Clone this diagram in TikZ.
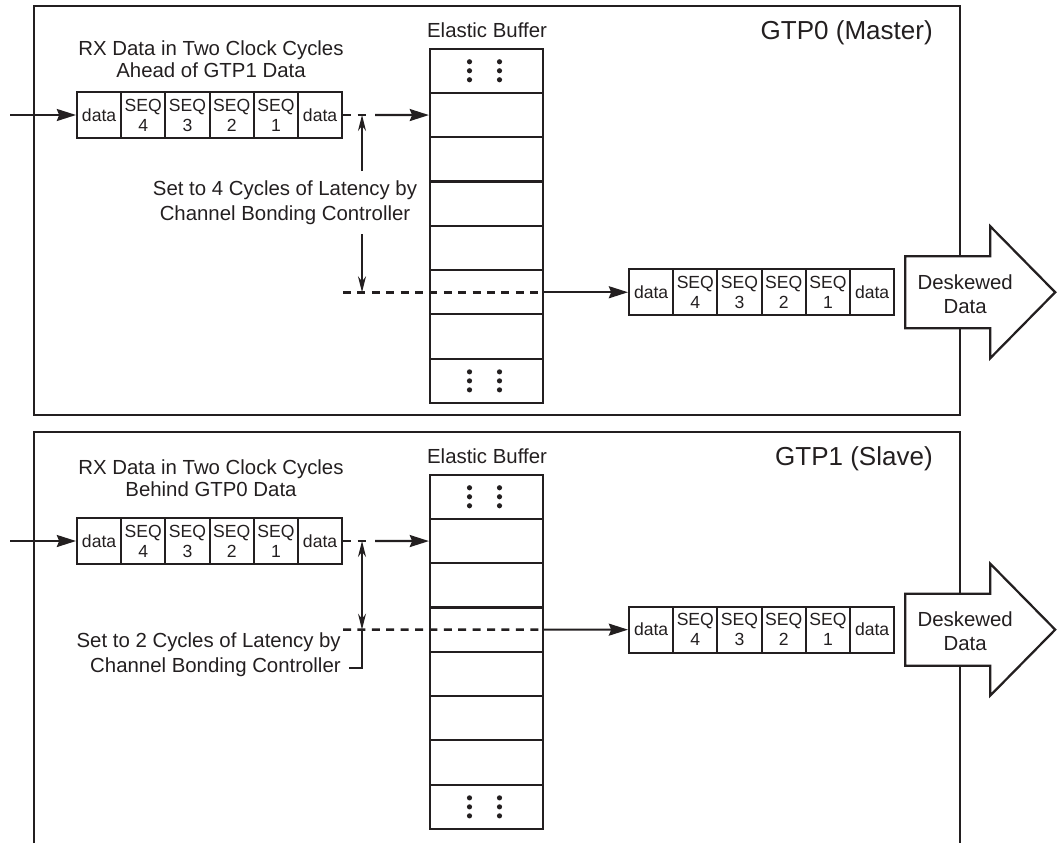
\documentclass[tikz,border=0pt]{standalone}
\usepackage{fontspec}
\setmainfont{Liberation Sans}
\usepackage{xcolor}
\definecolor{ink}{HTML}{231F20}
\usepackage{tikz}
\usetikzlibrary{arrows.meta,calc}
\newcommand{\lblfont}{\fontsize{14.5}{15.6}\selectfont}
\newcommand{\latfont}{\fontsize{14.5}{18}\selectfont}
\newcommand{\cellfont}{\fontsize{12.5}{14.2}\selectfont}
\newcommand{\gtpfont}{\fontsize{18.5}{22}\selectfont}

\begin{document}
\begin{tikzpicture}[x=0.025cm, y=-0.025cm, ink,
  >={Stealth[length=4.8mm,width=3mm,inset=0.6mm]},
  panel/.style={draw=ink, line width=1.8pt},
  bufrow/.style={draw=ink, fill=white, line width=1.5pt, minimum width=2.825cm, minimum height=1.1075cm, inner sep=0pt},
  cell/.style={draw=ink, fill=white, line width=1.4pt, minimum width=1.105cm, minimum height=1.15cm, inner sep=0pt, align=center, font=\cellfont},
  flow/.style={->, line width=1.5pt},
  stub/.style={line width=1.8pt, dash pattern=on 2mm off 1.6mm},
  lat/.style={line width=0.9pt, {Stealth[length=4mm,width=2mm]}-{Stealth[length=4mm,width=2mm]}},
  lbl/.style={font=\lblfont, align=center, inner sep=0pt},
  latlbl/.style={font=\latfont, inner sep=0pt},
  gtp/.style={font=\gtpfont, inner sep=0pt},
  bigarr/.style={draw=ink, fill=white, line width=1.6pt, line join=miter}]
  \useasboundingbox (0,0) rectangle (1057,843);
  % ------- GTP0 (master): 4 cycles -------
  \draw[panel] (34,6) rectangle (960,415);
  \node[lbl] (headA) at (211,59) {RX Data in Two Clock Cycles\\Ahead of GTP1 Data};
  \node[lbl] (bufA) at (487,30) {Elastic Buffer};
  \node[gtp, anchor=east] (gtpA) at (933,33) {GTP0 (Master)};
  \foreach \i in {1,...,8}
    \node[bufrow] (ebA\i) at (486.5,{48.6+(\i-0.5)*44.3}) {};
  \foreach \i in {1,8}
    \foreach \dx in {-17,13}
      \foreach \dy in {-9,0,9}
        \fill ($(ebA\i.center)+(\dx,\dy)$) circle (0.65mm);
  \foreach \j/\lab in {0/data,1/{SEQ\\4},2/{SEQ\\3},3/{SEQ\\2},4/{SEQ\\1},5/data}
    \node[cell] (rxA\j) at ({99.1+\j*44.2},115) {\lab};
  \foreach \j/\lab in {0/data,1/{SEQ\\4},2/{SEQ\\3},3/{SEQ\\2},4/{SEQ\\1},5/data}
    \node[cell] (dsA\j) at ({651.1+\j*44.2},292.25) {\lab};
  \coordinate (srcA) at (10,115);
  \coordinate (stubA) at (368,115);
  \coordinate (gapA) at (375,115);
  \coordinate (dashA) at (343,292.25);
  \draw[flow] (srcA) -- (rxA0.west);
  \draw[stub] (rxA5.east) -- (stubA);
  \draw[flow] (gapA) -- (ebA2.west);
  \draw[stub] (dashA) -- (ebA6.east);
  \draw[flow] (ebA6.east) -- (dsA0.west);
  \node[latlbl, align=center] (latA) at (285,202.5) {Set to 4 Cycles of Latency by\\Channel Bonding Controller};
  \coordinate (latAtop) at (362,115);
  \coordinate (latAup) at (362,171);
  \coordinate (latAdn) at (362,234);
  \coordinate (latAbot) at (362,292.25);
  \draw[lat, -{Stealth[length=4mm,width=2mm]}] (latAup) -- (latAtop);
  \draw[lat, -{Stealth[length=4mm,width=2mm]}] (latAdn) -- (latAbot);
  \draw[bigarr] ($(dsA5.east)+(10,-36)$) -- ++(85,0) -- ++(0,-30) -- ++(65,66)
    -- ++(-65,66) -- ++(0,-30) -- ++(-85,0) -- cycle;
  \node[latlbl, align=center, font=\fontsize{14.5}{17}\selectfont] (deskA) at ($(dsA5.east)+(70,2)$) {Deskewed\\Data};
  % ------- GTP1 (slave): 2 cycles -------
  \draw[panel] (34,843) -- (34,432) -- (960,432) -- (960,843);
  \node[lbl] (headB) at (211,478) {RX Data in Two Clock Cycles\\Behind GTP0 Data};
  \node[lbl] (bufB) at (487,456) {Elastic Buffer};
  \node[gtp, anchor=east] (gtpB) at (933,459) {GTP1 (Slave)};
  \foreach \i in {1,...,8}
    \node[bufrow] (ebB\i) at (486.5,{474.6+(\i-0.5)*44.3}) {};
  \foreach \i in {1,8}
    \foreach \dx in {-17,13}
      \foreach \dy in {-9,0,9}
        \fill ($(ebB\i.center)+(\dx,\dy)$) circle (0.65mm);
  \foreach \j/\lab in {0/data,1/{SEQ\\4},2/{SEQ\\3},3/{SEQ\\2},4/{SEQ\\1},5/data}
    \node[cell] (rxB\j) at ({99.1+\j*44.2},541) {\lab};
  \foreach \j/\lab in {0/data,1/{SEQ\\4},2/{SEQ\\3},3/{SEQ\\2},4/{SEQ\\1},5/data}
    \node[cell] (dsB\j) at ({651.1+\j*44.2},629.65) {\lab};
  \coordinate (srcB) at (10,541);
  \coordinate (stubB) at (368,541);
  \coordinate (gapB) at (375,541);
  \coordinate (dashB) at (343,629.65);
  \draw[flow] (srcB) -- (rxB0.west);
  \draw[stub] (rxB5.east) -- (stubB);
  \draw[flow] (gapB) -- (ebB2.west);
  \draw[stub] (dashB) -- (ebB4.east);
  \draw[flow] (ebB4.east) -- (dsB0.west);
  \node[latlbl, align=right, anchor=east] (latB) at (341,655) {Set to 2 Cycles of Latency by\\Channel Bonding Controller};
  \coordinate (latBtop) at (362,541);
  \coordinate (latBbot) at (362,629.65);
  \coordinate (latBend) at (362,668);
  \coordinate (latBlbl) at (349,668);
  \draw[lat] (latBtop) -- (latBbot);
  \draw[line width=0.9pt] (latBbot) -- (latBend) -- (latBlbl);
  \draw[bigarr] ($(dsB5.east)+(10,-36)$) -- ++(85,0) -- ++(0,-30) -- ++(65,66)
    -- ++(-65,66) -- ++(0,-30) -- ++(-85,0) -- cycle;
  \node[latlbl, align=center, font=\fontsize{14.5}{17}\selectfont] (deskB) at ($(dsB5.east)+(70,2)$) {Deskewed\\Data};
\end{tikzpicture}
\end{document}
